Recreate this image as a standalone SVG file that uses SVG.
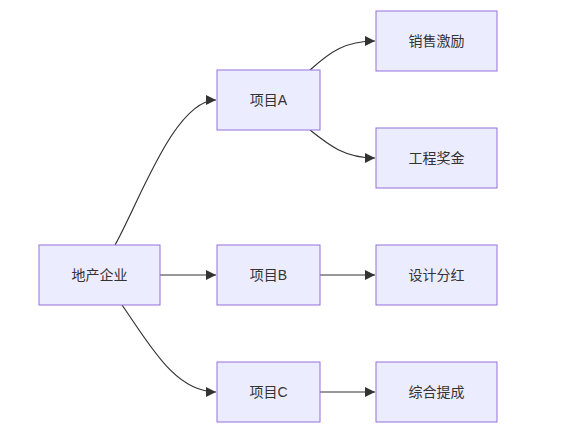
<svg xmlns="http://www.w3.org/2000/svg" width="561" height="435" viewBox="0 0 561 435">
<style>
.node rect{fill:#ECECFF;stroke:#9370DB;stroke-width:1}
.node text{fill:#333;font-family:"Liberation Sans","Noto Sans CJK SC",sans-serif;font-size:14px;text-anchor:middle;dominant-baseline:central}
.edge{fill:none;stroke:#333;stroke-width:1.2;marker-end:url(#arrow)}
</style>
<defs>
<marker id="arrow" viewBox="0 0 10 10" refX="10" refY="5" markerUnits="userSpaceOnUse" markerWidth="10" markerHeight="10" orient="auto">
<path d="M0,0 L10,5 L0,10 z" fill="#333"/>
</marker>
</defs>
<rect width="561" height="435" fill="#fff"/>
<g id="connectors">
<path class="edge" d="M115,245 C140,200 175,100 216,100"/>
<path class="edge" d="M160,275 L216,275"/>
<path class="edge" d="M122,305 C150,345 175,392 216,392"/>
<path class="edge" d="M310,70 C330,52 345,41 375,41"/>
<path class="edge" d="M310,130 C330,146 345,158 375,158"/>
<path class="edge" d="M320,275 L375,275"/>
<path class="edge" d="M320,392 L375,392"/>
</g>
<g id="n_company" class="node"><rect x="39" y="245" width="121" height="60"/><text x="99.5" y="275">地产企业</text></g>
<g id="n_projA" class="node"><rect x="217" y="70" width="103" height="60"/><text x="268.5" y="100">项目A</text></g>
<g id="n_projB" class="node"><rect x="217" y="245" width="103" height="60"/><text x="268.5" y="275">项目B</text></g>
<g id="n_projC" class="node"><rect x="217" y="362" width="103" height="60"/><text x="268.5" y="392">项目C</text></g>
<g id="n_sales" class="node"><rect x="376" y="11" width="121" height="60"/><text x="436.5" y="41">销售激励</text></g>
<g id="n_eng" class="node"><rect x="376" y="128" width="121" height="60"/><text x="436.5" y="158">工程奖金</text></g>
<g id="n_design" class="node"><rect x="376" y="245" width="121" height="60"/><text x="436.5" y="275">设计分红</text></g>
<g id="n_comp" class="node"><rect x="376" y="362" width="121" height="60"/><text x="436.5" y="392">综合提成</text></g>
</svg>
